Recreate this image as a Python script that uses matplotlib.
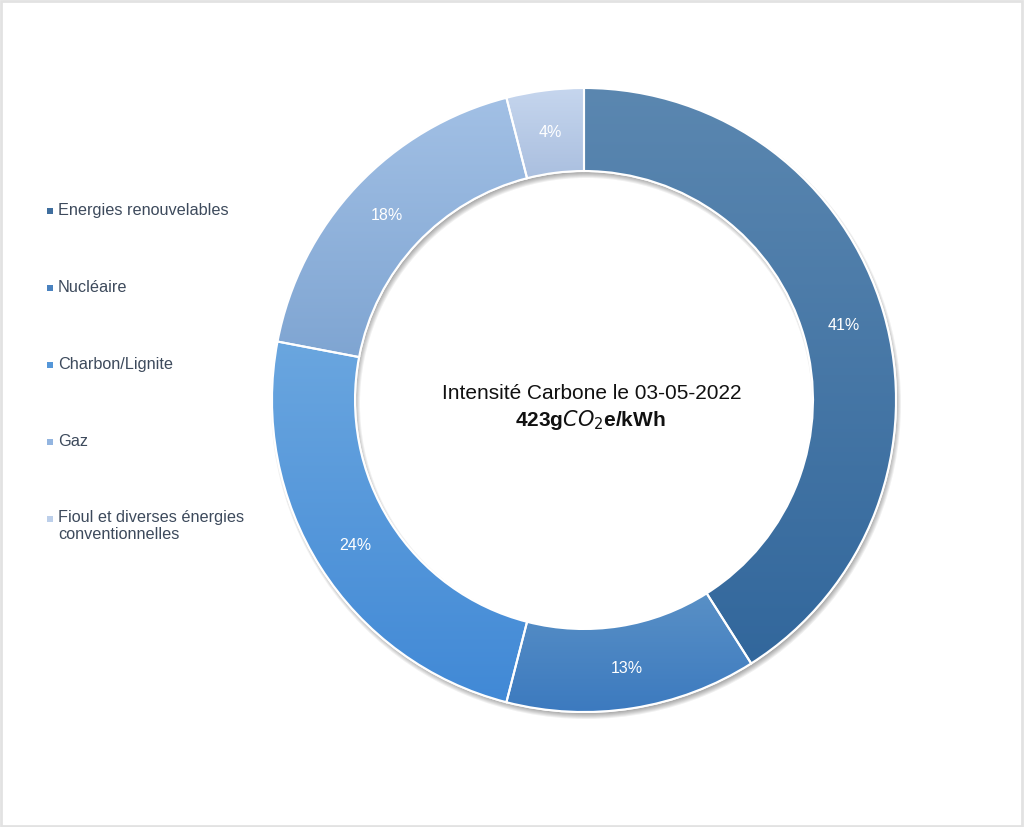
import matplotlib

matplotlib.use("Agg")
import matplotlib.pyplot as plt
import numpy as np
from matplotlib.colors import LinearSegmentedColormap
from matplotlib.patches import Annulus, PathPatch, Rectangle

plt.rcParams["font.family"] = ["Liberation Sans", "DejaVu Sans"]

labels = ["Energies renouvelables", "Nucléaire", "Charbon/Lignite", "Gaz",
          "Fioul et diverses énergies\nconventionnelles"]
values = [41, 13, 24, 18, 4]
pct_labels = ["41%", "13%", "24%", "18%", "4%"]
top_colors = ["#5b87b0", "#5990c6", "#6aa6df", "#a2c0e5", "#c6d6ee"]
bottom_colors = ["#32679c", "#3c7abf", "#4189d6", "#7fa5d2", "#aabfdf"]
legend_colors = ["#3f6e9e", "#4a82bf", "#5597d9", "#93b5e0", "#bccfea"]
title_line = "Intensité Carbone le 03-05-2022"
value_line = r"423g$CO_2$e/kWh"

W, H = 1024, 828
fig = plt.figure(figsize=(W / 100, H / 100), dpi=100)
ax = fig.add_axes([0, 0, 1, 1])

cx, cy, R, r_in = 584, 427, 312, 229

# soft drop shadow of the ring
for k in range(6):
    ax.add_patch(Annulus((cx + 2, cy - 4), R + 3 - k, R - r_in + 6 - 2 * k,
                         color="#000000", alpha=0.06, lw=0, zorder=1))

wedges, _ = ax.pie(values, center=(cx, cy), radius=R, startangle=90, counterclock=False,
                   colors=top_colors, wedgeprops=dict(width=R - r_in, edgecolor="white", linewidth=1.5))

grad = np.linspace(0, 1, 256).reshape(-1, 1)
for w, c0, c1 in zip(wedges, top_colors, bottom_colors):
    w.set_zorder(2)
    bb = w.get_path().get_extents(w.get_transform() - ax.transData)
    cmap = LinearSegmentedColormap.from_list("g", [c0, c1])
    im = ax.imshow(grad, cmap=cmap, aspect="auto", origin="upper",
                   extent=[bb.x0, bb.x1, bb.y0, bb.y1], zorder=3)
    im.set_clip_path(w)
    ax.add_patch(PathPatch(w.get_path(), transform=w.get_transform(),
                           fc="none", ec="white", lw=1.5, zorder=4))

# percentage labels
theta = 90.0
rm = (R + r_in) / 2
for v, t in zip(values, pct_labels):
    mid = np.deg2rad(theta - v * 3.6 / 2)
    ax.text(cx + rm * np.cos(mid), cy + rm * np.sin(mid), t, color="white",
            fontsize=11.5, ha="center", va="center", zorder=5)
    theta -= v * 3.6

ax.text(cx + 8, cy - 2, title_line, fontsize=15, ha="center", va="bottom", color="#111111")
ax.text(cx + 6, cy - 7, value_line, fontsize=15, ha="center", va="top",
        fontweight="bold", color="#111111")

# legend on the left
leg_y = [617, 540, 463, 386, 309]
for lab, col, y in zip(labels, legend_colors, leg_y):
    ax.add_patch(Rectangle((47, y - 3.5), 6, 6, color=col, lw=0))
    if "\n" in lab:
        ax.text(58, y + 9, lab, fontsize=11.7, color="#3d4a5c", va="top", linespacing=1.2)
    else:
        ax.text(58, y, lab, fontsize=11.7, color="#3d4a5c", va="center")

# figure border
ax.add_patch(Rectangle((1, 1), W - 3, H - 3, fc="none", ec="#e2e2e2", lw=2))

ax.set_xlim(0, W)
ax.set_ylim(0, H)
ax.set_aspect("auto")
ax.axis("off")
fig.savefig("out.png", dpi=100)
